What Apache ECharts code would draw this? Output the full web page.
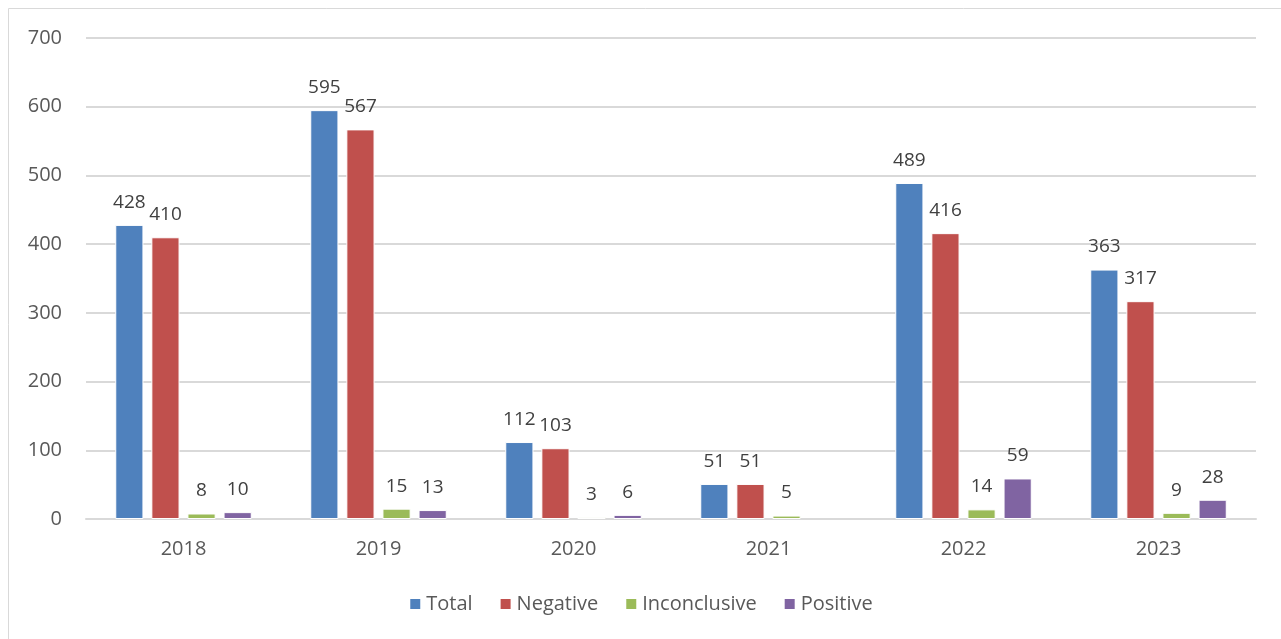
<!DOCTYPE html>
<html>
<head>
<meta charset="utf-8">
<script src="https://cdn.jsdelivr.net/npm/echarts@6/dist/echarts.min.js"></script>
<style>
  html, body { margin: 0; padding: 0; background: #fff; }
  #chart { width: 1281px; height: 639px; }
</style>
</head>
<body>
<div id="chart"></div>
<script>
const years = ['2018', '2019', '2020', '2021', '2022', '2023']
const total = [428, 595, 112, 51, 489, 363]
const negative = [410, 567, 103, 51, 416, 317]
const inconclusive = [8, 15, 3, 5, 14, 9]
const positive = [10, 13, 6, null, 59, 28]

const font = 'Open Sans'

const chart = echarts.init(document.getElementById('chart'))

const makeSeries = (name, data, color) => ({
  name,
  type: 'bar',
  data,
  barGap: '28%',
  barCategoryGap: '30%',
  itemStyle: { color, borderColor: '#fff', borderWidth: 1 },
  label: {
    show: true,
    position: 'top',
    distance: 13,
    color: '#404040',
    fontFamily: font,
    fontSize: 19,
  },
})

chart.setOption({
  animation: false,
  textStyle: { fontFamily: font },
  graphic: [
    {
      type: 'rect',
      shape: { x: 8.5, y: 8.5, width: 1300, height: 700 },
      style: { fill: 'none', stroke: '#d9d9d9', lineWidth: 1 },
      silent: true,
    },
  ],
  legend: {
    bottom: 20,
    left: 'center',
    itemWidth: 12,
    itemHeight: 12,
    itemGap: 26,
    icon: 'rect',
    textStyle: { color: '#595959', fontSize: 20, fontFamily: font },
  },
  grid: { left: 86, right: 25, top: 38, bottom: 120 },
  xAxis: {
    type: 'category',
    data: years,
    axisLine: { lineStyle: { color: '#d9d9d9', width: 2 } },
    axisTick: { show: false },
    axisLabel: { color: '#595959', fontSize: 20, margin: 20, fontFamily: font },
  },
  yAxis: {
    type: 'value',
    min: 0,
    max: 700,
    interval: 100,
    axisLine: { show: false },
    axisTick: { show: false },
    splitLine: { lineStyle: { color: '#d9d9d9', width: 2 } },
    axisLabel: { color: '#595959', fontSize: 20, margin: 24, fontFamily: font },
  },
  series: [
    makeSeries('Total', total, '#4f81bd'),
    makeSeries('Negative', negative, '#c0504d'),
    makeSeries('Inconclusive', inconclusive, '#9bbb59'),
    makeSeries('Positive', positive, '#8064a2'),
  ],
})
</script>
</body>
</html>
